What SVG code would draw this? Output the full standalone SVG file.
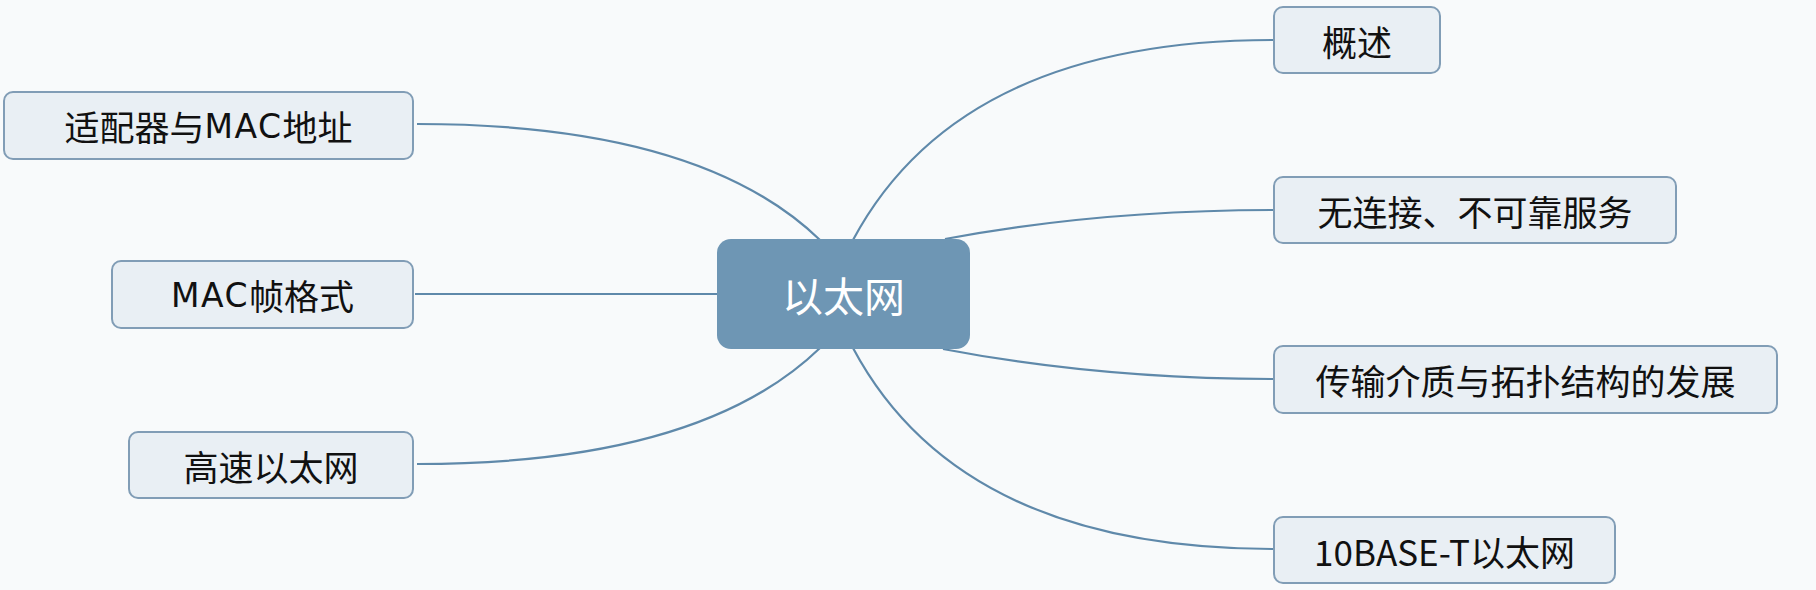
<svg xmlns="http://www.w3.org/2000/svg" width="1816" height="590" viewBox="0 0 1816 590">
<style>
.bg{fill:#f8fafb}
.leaf rect{fill:#e9eff4;stroke:#819db6;stroke-width:2}
.leaf text{font-family:"Noto Sans CJK SC","Noto Sans",sans-serif;font-size:35px;font-weight:400;fill:#111111;text-anchor:middle;dominant-baseline:central}
.root rect{fill:#6e96b4}
.root text{font-family:"Noto Sans CJK SC","Noto Sans",sans-serif;font-size:41px;font-weight:400;fill:#ffffff;text-anchor:middle;dominant-baseline:central}
.lat{font-family:"DejaVu Sans","Noto Sans",sans-serif;font-size:33px;letter-spacing:1.5px}
#connectors path{fill:none;stroke:#5f89aa;stroke-width:2.2}
</style>
<rect class="bg" x="0" y="0" width="1816" height="590"/>
<g id="connectors">
<path d="M417 124 Q700 124 820 240"/>
<path d="M415 294 L718 294"/>
<path d="M417 464 Q700 464 820 348"/>
<path d="M853 240 Q960 40 1274 40"/>
<path d="M945 239 Q1100 210 1274 210"/>
<path d="M943 349 Q1100 379 1274 379"/>
<path d="M853 348 Q960 549 1274 549"/>
</g>
<g id="root" class="root">
<rect x="717" y="239" width="253" height="110" rx="14"/>
<text x="843.5" y="294">以太网</text>
</g>
<g id="n-adapter" class="leaf">
<rect x="4" y="92" width="409" height="67" rx="9"/>
<text x="208.5" y="125.5">适配器与<tspan class="lat">MAC</tspan>地址</text>
</g>
<g id="n-macframe" class="leaf">
<rect x="112" y="261" width="301" height="67" rx="9"/>
<text x="262.5" y="294.5"><tspan class="lat">MAC</tspan>帧格式</text>
</g>
<g id="n-fast" class="leaf">
<rect x="129" y="432" width="284" height="66" rx="9"/>
<text x="271" y="465">高速以太网</text>
</g>
<g id="n-overview" class="leaf">
<rect x="1274" y="7" width="166" height="66" rx="9"/>
<text x="1357" y="40">概述</text>
</g>
<g id="n-connless" class="leaf">
<rect x="1274" y="177" width="402" height="66" rx="9"/>
<text x="1475" y="210">无连接、不可靠服务</text>
</g>
<g id="n-media" class="leaf">
<rect x="1274" y="346" width="503" height="67" rx="9"/>
<text x="1525.5" y="379.5">传输介质与拓扑结构的发展</text>
</g>
<g id="n-10baset" class="leaf">
<rect x="1274" y="517" width="341" height="66" rx="9"/>
<text x="1444.5" y="550">10BASE-T以太网</text>
</g>
</svg>
